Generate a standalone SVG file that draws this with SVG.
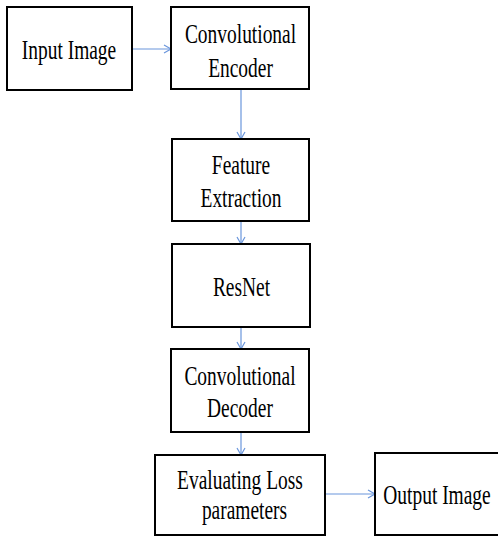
<svg xmlns="http://www.w3.org/2000/svg" width="498" height="536" viewBox="0 0 498 536">
<style>
.box{fill:#fff;stroke:#000;stroke-width:2}
.t{font-family:"Liberation Serif","Times New Roman",serif;font-size:27px;fill:#000;text-anchor:middle}
.c{stroke:#6a96dc;stroke-width:1.2;fill:none}
</style>
<defs>
<marker id="ah" markerWidth="10" markerHeight="10" refX="8" refY="5" orient="auto" markerUnits="userSpaceOnUse">
<path d="M1,1 L8,5 L1,9" fill="none" stroke="#6a96dc" stroke-width="1.2"/>
</marker>
</defs>
<rect width="498" height="536" fill="#fff"/>
<g id="connectors">
<line class="c" x1="132" y1="49" x2="171" y2="49" marker-end="url(#ah)"/>
<line class="c" x1="241" y1="90" x2="241" y2="139" marker-end="url(#ah)"/>
<line class="c" x1="241" y1="222" x2="241" y2="244" marker-end="url(#ah)"/>
<line class="c" x1="241" y1="328" x2="241" y2="349" marker-end="url(#ah)"/>
<line class="c" x1="241" y1="433" x2="241" y2="455" marker-end="url(#ah)"/>
<line class="c" x1="325" y1="494" x2="375" y2="494" marker-end="url(#ah)"/>
</g>
<g id="input">
<rect class="box" x="7" y="7" width="125" height="83"/>
<text class="t" transform="translate(69,59) scale(0.72,1)">Input Image</text>
</g>
<g id="encoder">
<rect class="box" x="171" y="7" width="138" height="82"/>
<text class="t" transform="translate(240.5,43) scale(0.72,1)">Convolutional</text>
<text class="t" transform="translate(240.5,77) scale(0.72,1)">Encoder</text>
</g>
<g id="feature">
<rect class="box" x="172" y="139" width="137" height="82"/>
<text class="t" transform="translate(241,174) scale(0.72,1)">Feature</text>
<text class="t" transform="translate(241,207) scale(0.72,1)">Extraction</text>
</g>
<g id="resnet">
<rect class="box" x="172" y="244" width="138" height="83"/>
<text class="t" transform="translate(241.5,296) scale(0.72,1)">ResNet</text>
</g>
<g id="decoder">
<rect class="box" x="171" y="349" width="138" height="83"/>
<text class="t" transform="translate(240,385) scale(0.72,1)">Convolutional</text>
<text class="t" transform="translate(240,417) scale(0.72,1)">Decoder</text>
</g>
<g id="evaluate">
<rect class="box" x="155" y="455" width="170" height="80"/>
<text class="t" transform="translate(240,489) scale(0.72,1)">Evaluating Loss</text>
<text class="t" transform="translate(244.5,519) scale(0.72,1)">parameters</text>
</g>
<g id="output">
<rect class="box" x="375" y="453" width="130" height="82"/>
<text class="t" transform="translate(437,504) scale(0.72,1)">Output Image</text>
</g>
</svg>
